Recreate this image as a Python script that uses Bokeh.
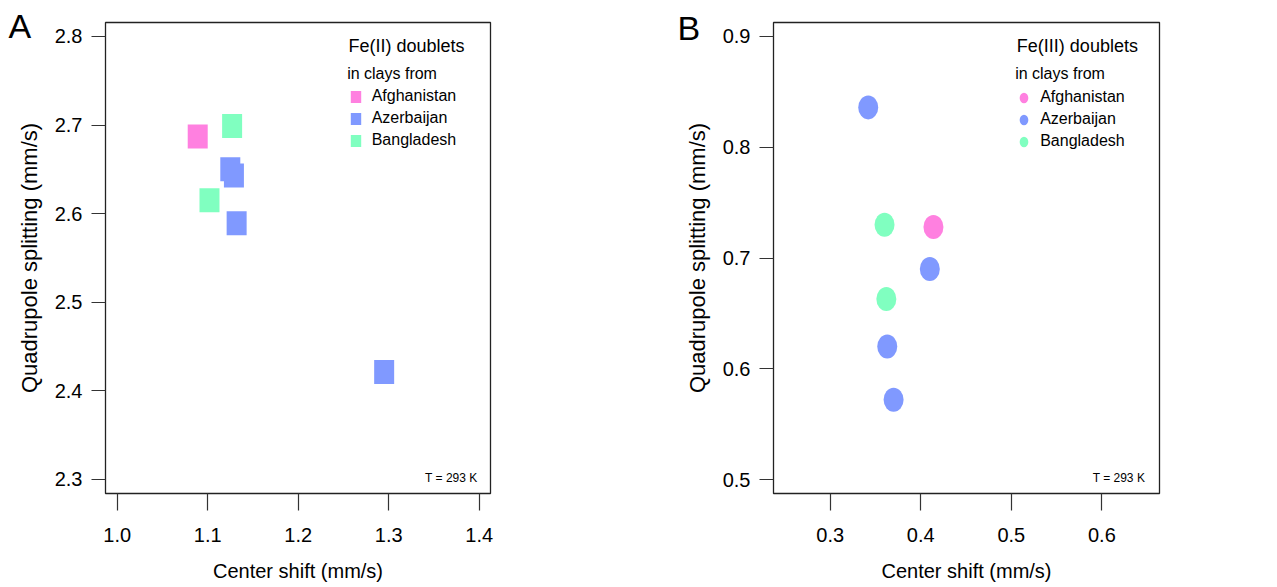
from bokeh.plotting import figure
from bokeh.layouts import row
from bokeh.models import (Range1d, FixedTicker, PrintfTickFormatter, Label,
                          Legend, LegendItem, ColumnDataSource)
from bokeh.embed import file_html
from bokeh.resources import INLINE

# ---------------- data ----------------
countries = ["Afghanistan", "Azerbaijan", "Bangladesh"]
country_colors = ["#FF80E0", "#8099FF", "#80FFC0"]

# Panel A: Fe(II) doublets
fe2_country = ["Afghanistan", "Bangladesh", "Bangladesh", "Azerbaijan",
               "Azerbaijan", "Azerbaijan", "Azerbaijan"]
fe2_cs = [1.089, 1.127, 1.102, 1.125, 1.129, 1.132, 1.295]
fe2_qs = [2.687, 2.699, 2.615, 2.650, 2.643, 2.589, 2.421]

# Panel B: Fe(III) doublets
fe3_country = ["Azerbaijan", "Bangladesh", "Afghanistan", "Azerbaijan",
               "Bangladesh", "Azerbaijan", "Azerbaijan"]
fe3_cs = [0.342, 0.360, 0.414, 0.410, 0.362, 0.363, 0.370]
fe3_qs = [0.836, 0.730, 0.728, 0.690, 0.663, 0.620, 0.572]

a_xticks = [1.0, 1.1, 1.2, 1.3, 1.4]
a_yticks = [2.3, 2.4, 2.5, 2.6, 2.7, 2.8]
b_xticks = [0.3, 0.4, 0.5, 0.6]
b_yticks = [0.5, 0.6, 0.7, 0.8, 0.9]

FONT = "Liberation Sans"
XLABEL = "Center shift (mm/s)"
YLABEL = "Quadrupole splitting (mm/s)"


def make_fig(width, xr, yr, xticks, yticks, bl, br, bb):
    p = figure(width=width, height=587, x_range=Range1d(*xr), y_range=Range1d(*yr),
               output_backend="svg", toolbar_location=None,
               min_border_left=bl, min_border_right=br, min_border_top=22,
               min_border_bottom=bb)
    p.grid.visible = False
    p.outline_line_color = "#222222"
    p.outline_line_width = 1.3
    p.background_fill_color = "white"
    p.border_fill_color = "white"
    p.xaxis.ticker = FixedTicker(ticks=xticks)
    p.yaxis.ticker = FixedTicker(ticks=yticks)
    p.xaxis.formatter = PrintfTickFormatter(format="%.1f")
    p.yaxis.formatter = PrintfTickFormatter(format="%.1f")
    for ax in (p.xaxis, p.yaxis):
        ax.axis_line_color = None
        ax.major_tick_in = 0
        ax.minor_tick_line_color = None
        ax.major_tick_line_color = "#333333"
        ax.major_tick_line_width = 1.2
        ax.major_label_text_font = FONT
        ax.major_label_text_font_size = "20px"
        ax.major_label_text_color = "black"
        ax.axis_label_text_font = FONT
        ax.axis_label_text_font_style = "normal"
        ax.axis_label_text_color = "black"
    p.xaxis.major_tick_out = 17
    p.yaxis.major_tick_out = 14
    p.xaxis.major_label_standoff = 17
    p.yaxis.major_label_standoff = 9
    p.xaxis.axis_label = XLABEL
    p.yaxis.axis_label = YLABEL
    p.xaxis.axis_label_text_font_size = "20px"
    p.yaxis.axis_label_text_font_size = "22px"
    p.xaxis.axis_label_standoff = 15
    p.yaxis.axis_label_standoff = 10
    return p


def add_text(p, x, y, text, size, align="left", place="center"):
    p.add_layout(Label(x=x, y=y, text=text, text_font=FONT, text_font_size=size,
                       text_align=align, text_baseline="middle", text_color="black"),
                 place)


# ---------------- Panel A ----------------
pA = make_fig(640, (0.9871, 1.4125), (2.2839, 2.8158), a_xticks, a_yticks, 105, 150, 93)
itemsA = []
for c, col in zip(countries, country_colors):
    idx = [i for i, k in enumerate(fe2_country) if k == c]
    src = ColumnDataSource(dict(x=[fe2_cs[i] for i in idx], y=[fe2_qs[i] for i in idx]))
    r = pA.rect(x="x", y="y", width=20, height=24, width_units="screen",
                height_units="screen", source=src, fill_color=col, line_color=None)
    itemsA.append(LegendItem(label=c, renderers=[r]))

# ---------------- Panel B ----------------
pB = make_fig(637, (0.2374, 0.6636), (0.48736, 0.91264), b_xticks, b_yticks, 133, 118, 94)
itemsB = []
for c, col in zip(countries, country_colors):
    idx = [i for i, k in enumerate(fe3_country) if k == c]
    src = ColumnDataSource(dict(x=[fe3_cs[i] for i in idx], y=[fe3_qs[i] for i in idx]))
    r = pB.ellipse(x="x", y="y", width=20, height=24, width_units="screen",
                   height_units="screen", source=src, fill_color=col, line_color=None)
    itemsB.append(LegendItem(label=c, renderers=[r]))


def add_legend(p, items, loc, gw, gh):
    lg = Legend(items=items, location=loc, border_line_color=None,
                background_fill_alpha=0, padding=0, margin=0, spacing=0,
                glyph_width=gw, glyph_height=gh, label_height=22,
                label_standoff=10, label_text_font=FONT, label_text_font_size="16px",
                label_text_color="black")
    p.add_layout(lg, "center")


add_legend(pA, itemsA, (243.7, 342), 13, 15)
add_legend(pB, itemsB, (244.2, 341), 13, 13)

# titles / annotations
add_text(pA, 0.8799, 2.8113, "A", "34px", place="right")
add_text(pA, 1.2556, 2.7894, "Fe(II) doublets", "18px")
add_text(pA, 1.2541, 2.7585, "in clays from", "16px")
add_text(pA, 1.3981, 2.3016, "T = 293 K", "12px", "right")

add_text(pB, 0.13146, 0.90786, "B", "34px", place="right")
add_text(pB, 0.5061, 0.89124, "Fe(III) doublets", "18px")
add_text(pB, 0.5042, 0.86677, "in clays from", "16px")
add_text(pB, 0.6477, 0.50135, "T = 293 K", "12px", "right")

layout = row(pA, pB)
open("out.html", "w").write(file_html(layout, INLINE))
